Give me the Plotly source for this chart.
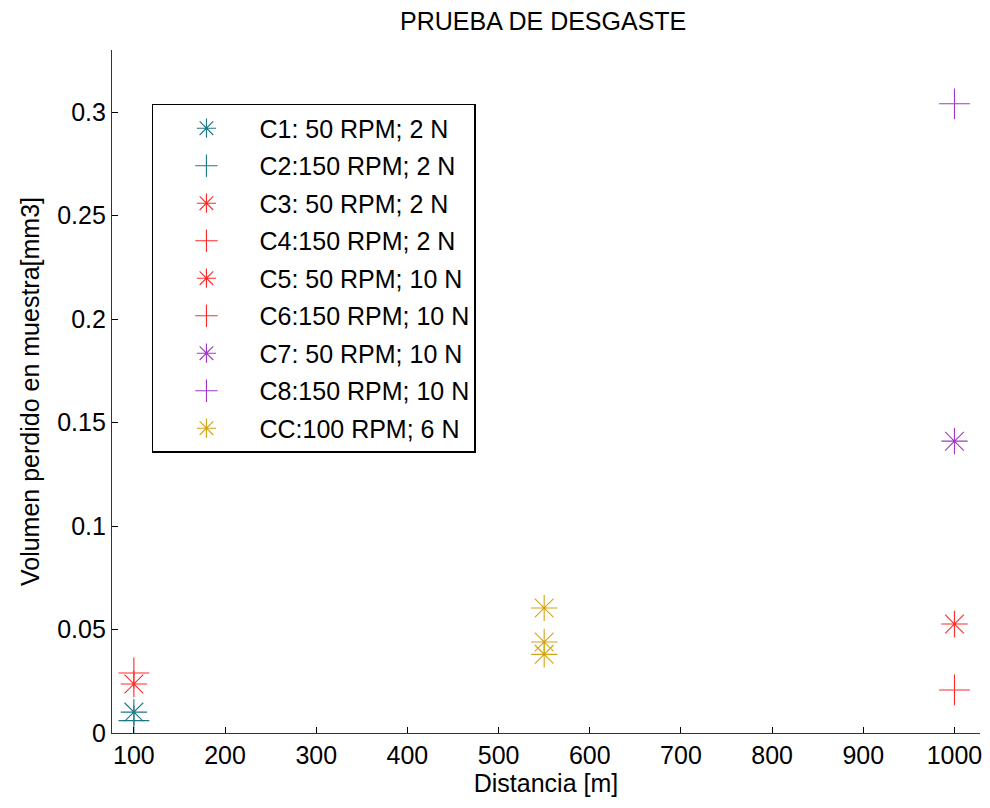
import plotly.graph_objects as go

# Data
names = ["C1: 50 RPM; 2 N", "C2:150 RPM; 2 N", "C3: 50 RPM; 2 N", "C4:150 RPM; 2 N",
         "C5: 50 RPM; 10 N", "C6:150 RPM; 10 N", "C7: 50 RPM; 10 N", "C8:150 RPM; 10 N",
         "CC:100 RPM; 6 N"]
x_vals = [[100], [100], [100], [100], [1000], [1000], [1000], [1000], [550, 550, 550]]
y_vals = [[0.0101], [0.006], [0.0237], [0.029], [0.0527], [0.0208], [0.141], [0.304],
          [0.0604, 0.044, 0.038]]
colors = ["#1d7888", "#1d7888", "#ff2a2a", "#ff2a2a", "#ff2a2a", "#ff2a2a",
          "#a336c8", "#a336c8", "#d4a417"]
symbols = ["asterisk-open", "cross-thin-open", "asterisk-open", "cross-thin-open",
           "asterisk-open", "cross-thin-open", "asterisk-open", "cross-thin-open",
           "asterisk-open"]
x_ticks = [100, 200, 300, 400, 500, 600, 700, 800, 900, 1000]
y_ticks = [0, 0.05, 0.1, 0.15, 0.2, 0.25, 0.3]
y_tick_text = ["0", "0.05", "0.1", "0.15", "0.2", "0.25", "0.3"]

FONT = "Liberation Sans, Arial, sans-serif"
FS = 25

fig = go.Figure()
for i, n in enumerate(names):
    fig.add_trace(go.Scatter(
        x=x_vals[i], y=y_vals[i], mode="markers", name=n,
        legendgroup=f"g{i}",
        marker=dict(symbol=symbols[i], size=22, color=colors[i],
                    line=dict(color=colors[i], width=1.1)),
    ))

fig.update_layout(
    width=982, height=800,
    margin=dict(l=104, r=8, t=42, b=75),
    paper_bgcolor="white", plot_bgcolor="white",
    font=dict(family=FONT, size=FS, color="black"),
    title=dict(text="PRUEBA DE DESGASTE", x=0.545, xanchor="center", y=0.9835, yanchor="middle",
               font=dict(family=FONT, size=25, color="black")),
    legend=dict(x=0.046, y=0.921, xanchor="left", yanchor="top",
                bordercolor="black", borderwidth=1.5, bgcolor="white",
                font=dict(family=FONT, size=FS, color="black"),
                tracegroupgap=2, traceorder="grouped", itemwidth=96),
    showlegend=True,
)
fig.update_xaxes(range=[76, 1028], tickvals=x_ticks, ticks="inside", ticklen=6,
                 tickcolor="black", showgrid=False, zeroline=False,
                 showline=True, linecolor="#333", linewidth=1.2, mirror=False,
                 title=dict(text="Distancia [m]", standoff=4,
                            font=dict(family=FONT, size=FS)),
                 tickfont=dict(family=FONT, size=FS))
fig.update_yaxes(range=[0, 0.33], tickvals=y_ticks, ticktext=y_tick_text, ticks="inside",
                 ticklen=6, tickcolor="black", showgrid=False, zeroline=False,
                 showline=True, linecolor="#333", linewidth=1.2, mirror=False,
                 title=dict(text="Volumen perdido en muestra[mm3]", standoff=10,
                            font=dict(family=FONT, size=FS)),
                 tickfont=dict(family=FONT, size=FS))

fig.write_html("out.html")
